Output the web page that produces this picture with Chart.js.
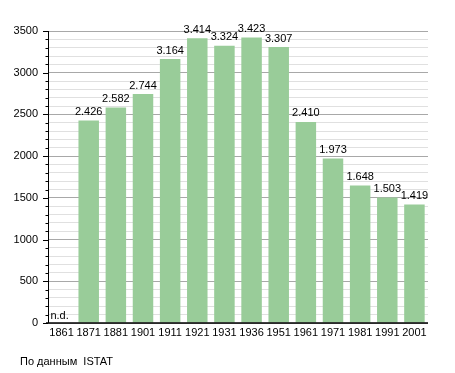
<!DOCTYPE html>
<html><head><meta charset="utf-8">
<script src="https://cdn.jsdelivr.net/npm/chart.js@4"></script>
<style>html,body{margin:0;padding:0;background:#fff}#w{width:455px;height:373px}</style>
</head><body><div id="w"><canvas id="c" width="455" height="373"></canvas></div>
<script>
const categories = ["1861","1871","1881","1901","1911","1921","1931","1936","1951","1961","1971","1981","1991","2001"];
const population = [null,2426,2582,2744,3164,3414,3324,3423,3307,2410,1973,1648,1503,1419];
const valueLabels = ["n.d.","2.426","2.582","2.744","3.164","3.414","3.324","3.423","3.307","2.410","1.973","1.648","1.503","1.419"];
const yMax = 3500, yMinorStep = 100, yMajorStep = 500;
const footnote = "По данным  ISTAT";
const FONT = "'Liberation Sans', Arial, sans-serif";

const overlay = {
  id:'overlay',
  beforeDatasetsDraw(chart){
    const ctx = chart.ctx, y = chart.scales.y, a = chart.chartArea;
    ctx.save();
    ctx.strokeStyle = '#000'; ctx.lineWidth = 1;
    for (let v = 0; v <= yMax; v += yMinorStep){
      const py = Math.round(y.getPixelForValue(v)) + 0.5;
      const len = (v % yMajorStep === 0) ? 5 : 2.5;
      ctx.beginPath(); ctx.moveTo(a.left - len, py); ctx.lineTo(a.left, py); ctx.stroke();
    }
    ctx.restore();
  },
  afterDatasetsDraw(chart){
    const ctx = chart.ctx, x = chart.scales.x, y = chart.scales.y, a = chart.chartArea;
    ctx.save();
    ctx.fillStyle = '#000';
    ctx.font = '11px ' + FONT;
    ctx.textAlign = 'center'; ctx.textBaseline = 'bottom';
    population.forEach((v,i)=>{
      const px = x.getPixelForValue(i);
      if (v === null){
        ctx.fillText(valueLabels[i], px - 2, y.getPixelForValue(0) - 2);
      } else {
        ctx.fillText(valueLabels[i], px, y.getPixelForValue(v) - 3);
      }
    });
    ctx.strokeStyle = '#000'; ctx.lineWidth = 1;
    ctx.beginPath();
    ctx.moveTo(a.left + 0.5, a.top); ctx.lineTo(a.left + 0.5, a.bottom);
    ctx.stroke();
    ctx.lineWidth = 1.5;
    ctx.beginPath();
    ctx.moveTo(a.left - 2, Math.round(a.bottom)); ctx.lineTo(a.right, Math.round(a.bottom));
    ctx.stroke();
    ctx.textAlign = 'left'; ctx.textBaseline = 'middle';
    ctx.fillText(footnote, 20, 362);
    ctx.restore();
  }
};

new Chart(document.getElementById('c'), {
  type:'bar',
  data:{ labels: categories, datasets:[{ data: population, backgroundColor:'rgb(153,204,153)', borderWidth:0, barPercentage:0.755, categoryPercentage:1 }]},
  options:{
    responsive:false, animation:false,
    layout:{ padding:{ top:31, right:27, left:0, bottom:0 } },
    plugins:{ legend:{display:false}, tooltip:{enabled:false} },
    scales:{
      x:{
        grid:{ display:false, drawTicks:false },
        border:{ display:false },
        ticks:{ color:'#000', font:{ family:FONT, size:11 }, padding:3, maxRotation:0, autoSkip:false },
        afterFit(s){ s.height = 50; }
      },
      y:{
        min:0, max:yMax,
        grid:{ drawTicks:false, lineWidth:1, color:(c)=> (c.tick.value % yMajorStep === 0) ? '#a8a8a8' : '#e0e0e0' },
        border:{ display:false },
        ticks:{ stepSize:yMinorStep, autoSkip:false, color:'#000', font:{ family:FONT, size:11 }, padding:10,
          callback:(v)=> (v % yMajorStep === 0) ? String(v) : '' },
        afterFit(s){ s.width = 48; }
      }
    }
  },
  plugins:[overlay]
});
</script></body></html>
